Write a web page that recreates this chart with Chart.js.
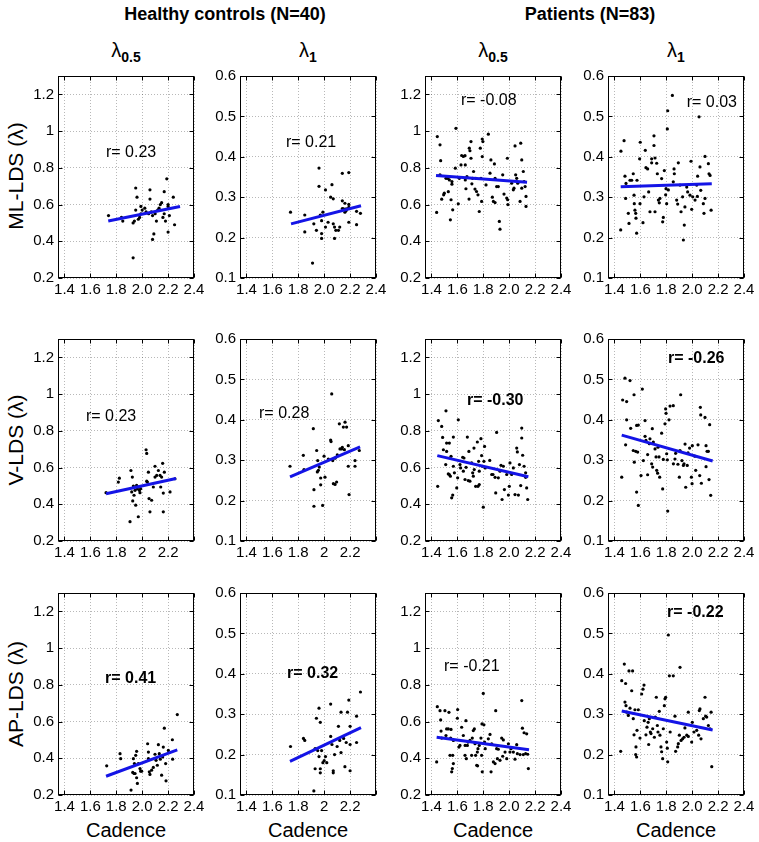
<!DOCTYPE html>
<html>
<head>
<meta charset="utf-8">
<script src="https://cdn.jsdelivr.net/npm/chart.js"></script>
<style>
body { margin: 0; width: 759px; height: 842px; background: #fff; position: relative; overflow: hidden;
       font-family: "Liberation Sans", Arial, sans-serif; color: #000; }
canvas { position: absolute; }
.head { position: absolute; top: 5px; width: 300px; text-align: center; font-weight: bold; font-size: 18px; line-height: 18px; }
.lam { position: absolute; top: 40px; width: 136px; text-align: center; font-size: 20px; line-height: 20px; }
.lam sub { font-size: 14px; font-weight: bold; vertical-align: -5px; line-height: 0; }
.rowlab { position: absolute; width: 200px; height: 24px; line-height: 24px; text-align: center; font-size: 21px; transform: rotate(-90deg); }
.xlab { position: absolute; top: 820px; width: 136px; text-align: center; font-size: 20px; line-height: 20px; }
</style>
</head>
<body>

<div class="head" style="left:75px">Healthy controls (N=40)</div>
<div class="head" style="left:440px">Patients (N=83)</div>

<div class="lam" style="left:58px">λ<sub>0.5</sub></div>
<div class="lam" style="left:240px">λ<sub>1</sub></div>
<div class="lam" style="left:425px">λ<sub>0.5</sub></div>
<div class="lam" style="left:608px">λ<sub>1</sub></div>

<div class="rowlab" style="left:-84px; top:164px">ML-LDS (λ)</div>
<div class="rowlab" style="left:-84px; top:428px">V-LDS (λ)</div>
<div class="rowlab" style="left:-84px; top:682px">AP-LDS (λ)</div>

<div class="xlab" style="left:58px">Cadence</div>
<div class="xlab" style="left:240px">Cadence</div>
<div class="xlab" style="left:425px">Cadence</div>
<div class="xlab" style="left:608px">Cadence</div>

<script>
// ---- ticks ----
const xTickValues = [1.4, 1.6, 1.8, 2.0, 2.2, 2.4];
const xLabelsLong = ['1.4', '1.6', '1.8', '2.0', '2.2', '2.4'];
const xLabelsShort = ['1.4', '1.6', '1.8', '2', '2.2', ''];
const yTicks05 = [0.2, 0.4, 0.6, 0.8, 1, 1.2];
const yLabels05 = ['0.2', '0.4', '0.6', '0.8', '1', '1.2'];
const yTicks1 = [0.1, 0.2, 0.3, 0.4, 0.5, 0.6];
const yLabels1 = ['0.1', '0.2', '0.3', '0.4', '0.5', '0.6'];

// ---- healthy controls: [cadence, lambda] ----
const hcMl05 = [[1.74,0.54],[1.84,0.53],[1.85,0.51],[1.93,0.50],[1.93,0.31],[1.94,0.51],[1.95,0.69],[1.96,0.64],[1.95,0.57],[1.97,0.52],
  [1.98,0.53],[1.99,0.59],[2.00,0.57],[2.02,0.58],[2.05,0.55],[2.06,0.68],[2.06,0.63],[2.07,0.56],[2.08,0.54],[2.08,0.41],
  [2.09,0.44],[2.10,0.55],[2.11,0.51],[2.13,0.58],[2.14,0.60],[2.15,0.61],[2.16,0.53],[2.17,0.67],[2.17,0.55],[2.18,0.51],
  [2.19,0.74],[2.20,0.60],[2.20,0.59],[2.20,0.45],[2.21,0.54],[2.24,0.64],[2.25,0.49],[2.12,0.57],[2.03,0.56],[1.99,0.55]];
const hcMl1 = [[1.74,0.263],[1.85,0.256],[1.85,0.214],[1.94,0.218],[1.96,0.372],[1.96,0.327],[1.97,0.256],[1.98,0.21],[1.98,0.198],[1.98,0.242],
  [1.99,0.263],[2.01,0.318],[2.01,0.226],[2.03,0.238],[2.06,0.331],[2.07,0.234],[2.07,0.296],[2.08,0.226],[2.08,0.198],[2.09,0.218],
  [2.11,0.218],[2.12,0.226],[2.14,0.359],[2.14,0.272],[2.15,0.271],[2.16,0.285],[2.16,0.263],[2.17,0.267],[2.19,0.361],[2.19,0.282],
  [2.19,0.275],[2.19,0.238],[2.25,0.232],[2.25,0.265],[2.28,0.26],[1.91,0.137],[2.17,0.271],[2.14,0.291],[2.05,0.3],[1.92,0.234]];
const hcV05 = [[1.721,0.463],[1.816,0.521],[1.824,0.542],[1.906,0.305],[1.913,0.584],[1.919,0.467],[1.924,0.548],[1.927,0.418],[1.932,0.499],[1.937,0.449],
  [1.945,0.476],[1.95,0.395],[1.957,0.503],[1.963,0.485],[1.97,0.332],[1.978,0.476],[1.983,0.463],[1.988,0.485],[2.03,0.697],[2.035,0.677],
  [2.035,0.526],[2.04,0.521],[2.048,0.575],[2.053,0.431],[2.06,0.359],[2.073,0.422],[2.086,0.494],[2.099,0.607],[2.099,0.548],[2.112,0.557],
  [2.125,0.584],[2.138,0.557],[2.143,0.494],[2.158,0.623],[2.163,0.461],[2.163,0.359],[2.171,0.575],[2.215,0.467],[2.253,0.539],[2.15,0.548]];
const hcV1 = [[1.736,0.285],[1.839,0.312],[1.844,0.277],[1.916,0.378],[1.921,0.227],[1.921,0.186],[1.942,0.324],[1.947,0.271],[1.95,0.299],[1.955,0.275],
  [1.962,0.283],[1.973,0.239],[1.973,0.256],[1.988,0.188],[1.999,0.31],[2.006,0.258],[2.05,0.35],[2.053,0.346],[2.058,0.464],[2.066,0.299],
  [2.071,0.242],[2.084,0.24],[2.096,0.246],[2.101,0.313],[2.117,0.39],[2.122,0.328],[2.135,0.328],[2.148,0.382],[2.156,0.326],[2.161,0.394],
  [2.173,0.382],[2.186,0.336],[2.186,0.285],[2.192,0.215],[2.238,0.299],[2.238,0.285],[2.271,0.324],[2.032,0.303],[2.084,0.305],[2.14,0.332]];
const hcAp05 = [[1.726,0.359],[1.829,0.425],[1.834,0.398],[1.914,0.227],[1.927,0.323],[1.932,0.398],[1.937,0.317],[1.94,0.371],[1.945,0.317],[1.95,0.416],
  [1.957,0.438],[1.957,0.294],[1.963,0.263],[1.97,0.371],[1.983,0.344],[1.988,0.33],[1.996,0.33],[2.042,0.479],[2.048,0.434],[2.048,0.398],
  [2.055,0.326],[2.06,0.312],[2.073,0.335],[2.086,0.35],[2.099,0.422],[2.107,0.389],[2.117,0.362],[2.125,0.474],[2.132,0.425],[2.14,0.395],
  [2.15,0.308],[2.158,0.407],[2.163,0.461],[2.171,0.564],[2.181,0.371],[2.184,0.277],[2.202,0.443],[2.233,0.501],[2.235,0.395],[2.271,0.638]];
const hcAp1 = [[1.74,0.22],[1.84,0.24],[1.85,0.235],[1.92,0.11],[1.93,0.165],[1.93,0.215],[1.94,0.29],[1.95,0.21],[1.96,0.315],[1.96,0.195],
  [1.97,0.28],[1.97,0.165],[1.97,0.155],[1.99,0.18],[2.00,0.185],[2.01,0.195],[2.05,0.325],[2.05,0.245],[2.06,0.225],[2.07,0.16],
  [2.07,0.155],[2.08,0.2],[2.10,0.22],[2.11,0.27],[2.12,0.235],[2.13,0.305],[2.13,0.205],[2.15,0.24],[2.16,0.17],[2.17,0.23],
  [2.18,0.305],[2.19,0.335],[2.20,0.27],[2.20,0.16],[2.20,0.225],[2.25,0.295],[2.25,0.23],[2.28,0.355],[2.02,0.18],[1.98,0.21]];

// ---- patients: [cadence, lambda] ----
const ptMl05 = [[1.44,0.557],[1.445,0.97],[1.466,0.925],[1.471,0.839],[1.466,0.762],[1.479,0.629],[1.494,0.653],[1.499,0.662],[1.512,0.743],[1.525,0.743],
  [1.53,0.67],[1.538,0.734],[1.546,0.517],[1.551,0.626],[1.558,0.725],[1.558,0.711],[1.564,0.571],[1.584,0.798],[1.589,1.015],[1.607,0.604],
  [1.615,0.743],[1.628,0.816],[1.633,0.867],[1.646,0.862],[1.659,0.866],[1.661,0.816],[1.661,0.734],[1.666,0.686],[1.674,0.752],[1.692,0.907],
  [1.697,0.893],[1.705,0.943],[1.705,0.852],[1.712,0.713],[1.717,0.743],[1.725,0.78],[1.736,0.684],[1.743,0.743],[1.748,0.671],[1.759,0.653],
  [1.769,0.562],[1.777,0.907],[1.782,0.743],[1.787,0.617],[1.792,0.957],[1.792,0.861],[1.797,0.943],[1.821,0.707],[1.839,0.983],[1.852,0.771],
  [1.859,0.843],[1.878,0.617],[1.886,0.821],[1.891,0.743],[1.903,0.698],[1.916,0.698],[1.924,0.508],[1.929,0.466],[1.891,0.611],[1.95,0.762],
  [1.96,0.657],[1.981,0.635],[1.986,0.852],[1.988,0.626],[2.019,0.716],[2.032,0.68],[2.037,0.689],[2.045,0.919],[2.05,0.762],[2.058,0.743],
  [2.066,0.716],[2.084,0.617],[2.089,0.934],[2.097,0.843],[2.109,0.78],[2.115,0.725],[2.123,0.698],[2.13,0.644],[2.13,0.59],[2.097,0.689],
  [1.99,0.6],[1.69,0.63],[1.87,0.64]];
const ptMl1 = [[1.448,0.219],[1.45,0.414],[1.474,0.44],[1.481,0.352],[1.489,0.334],[1.486,0.297],[1.507,0.26],[1.512,0.235],[1.52,0.342],[1.533,0.342],
  [1.545,0.358],[1.551,0.305],[1.553,0.284],[1.558,0.268],[1.564,0.26],[1.566,0.248],[1.571,0.211],[1.574,0.342],[1.594,0.395],[1.599,0.436],
  [1.62,0.237],[1.628,0.301],[1.638,0.416],[1.643,0.373],[1.656,0.37],[1.664,0.313],[1.674,0.264],[1.687,0.395],[1.687,0.385],[1.705,0.428],
  [1.705,0.452],[1.713,0.397],[1.713,0.264],[1.726,0.384],[1.731,0.358],[1.739,0.293],[1.746,0.286],[1.751,0.297],[1.764,0.346],[1.772,0.239],
  [1.777,0.25],[1.785,0.366],[1.795,0.306],[1.798,0.321],[1.803,0.284],[1.808,0.469],[1.811,0.514],[1.816,0.318],[1.847,0.552],[1.854,0.338],
  [1.86,0.37],[1.88,0.293],[1.888,0.283],[1.893,0.385],[1.906,0.33],[1.914,0.264],[1.926,0.301],[1.932,0.194],[1.939,0.231],[1.944,0.276],
  [1.958,0.325],[1.965,0.313],[1.983,0.305],[1.991,0.389],[1.996,0.27],[2.004,0.301],[2.035,0.33],[2.042,0.352],[2.053,0.499],[2.06,0.375],
  [2.066,0.317],[2.086,0.284],[2.091,0.26],[2.099,0.401],[2.099,0.297],[2.125,0.383],[2.13,0.358],[2.138,0.354],[2.146,0.268],[2.04,0.302],
  [2.022,0.293],[1.597,0.284],[1.862,0.358]];
const ptV05 = [[1.448,0.498],[1.453,0.856],[1.479,0.824],[1.486,0.764],[1.492,0.697],[1.512,0.909],[1.517,0.688],[1.517,0.733],[1.538,0.733],[1.53,0.565],
  [1.538,0.562],[1.546,0.553],[1.551,0.661],[1.556,0.435],[1.564,0.45],[1.569,0.607],[1.569,0.766],[1.577,0.571],[1.602,0.544],[1.607,0.86],
  [1.62,0.616],[1.625,0.598],[1.641,0.656],[1.651,0.652],[1.659,0.535],[1.677,0.766],[1.684,0.529],[1.689,0.688],[1.697,0.526],[1.71,0.625],
  [1.718,0.571],[1.723,0.553],[1.73,0.589],[1.741,0.498],[1.754,0.739],[1.759,0.498],[1.764,0.634],[1.769,0.58],[1.782,0.757],[1.787,0.665],
  [1.792,0.607],[1.8,0.384],[1.805,0.634],[1.81,0.715],[1.815,0.598],[1.85,0.639],[1.865,0.562],[1.875,0.562],[1.891,0.547],[1.896,0.462],
  [1.903,0.791],[1.916,0.544],[1.929,0.58],[1.937,0.612],[1.945,0.426],[1.955,0.607],[1.963,0.48],[1.981,0.562],[1.994,0.45],[2.001,0.498],
  [2.019,0.562],[2.032,0.598],[2.045,0.453],[2.058,0.706],[2.063,0.685],[2.071,0.45],[2.079,0.616],[2.089,0.502],[2.097,0.815],[2.097,0.761],
  [2.104,0.667],[2.115,0.607],[2.127,0.571],[2.135,0.489],[2.143,0.426],[2.127,0.547],[1.646,0.58],[1.595,0.489],[1.728,0.706],[1.769,0.507],
  [1.667,0.601],[2.006,0.625],[1.51,0.616]];
const ptV1 = [[1.456,0.258],[1.463,0.449],[1.481,0.503],[1.486,0.338],[1.494,0.445],[1.494,0.4],[1.52,0.497],[1.525,0.379],[1.545,0.324],[1.551,0.462],
  [1.553,0.295],[1.564,0.322],[1.571,0.386],[1.571,0.221],[1.579,0.32],[1.584,0.387],[1.584,0.188],[1.605,0.262],[1.615,0.476],[1.636,0.398],
  [1.636,0.359],[1.643,0.349],[1.656,0.264],[1.656,0.314],[1.669,0.341],[1.674,0.353],[1.687,0.291],[1.692,0.378],[1.695,0.283],[1.713,0.328],
  [1.721,0.308],[1.726,0.275],[1.733,0.268],[1.736,0.332],[1.744,0.308],[1.749,0.258],[1.764,0.367],[1.772,0.229],[1.777,0.302],[1.79,0.39],
  [1.795,0.427],[1.798,0.416],[1.803,0.316],[1.808,0.301],[1.811,0.174],[1.821,0.4],[1.829,0.434],[1.854,0.435],[1.867,0.303],[1.872,0.317],
  [1.901,0.258],[1.906,0.324],[1.911,0.462],[1.921,0.299],[1.932,0.287],[1.937,0.291],[1.95,0.233],[1.962,0.287],[1.968,0.318],[1.994,0.258],
  [1.999,0.242],[2.001,0.336],[2.027,0.275],[2.045,0.338],[2.058,0.262],[2.063,0.431],[2.066,0.412],[2.071,0.243],[2.099,0.406],[2.107,0.336],
  [2.107,0.284],[2.115,0.322],[2.125,0.322],[2.13,0.252],[2.135,0.388],[2.143,0.213],[1.89,0.29],[1.855,0.291],[1.623,0.299],[2.02,0.31],
  [1.945,0.34],[1.7,0.345],[1.98,0.33]];
const ptAp05 = [[1.44,0.38],[1.445,0.681],[1.466,0.659],[1.471,0.609],[1.474,0.548],[1.479,0.51],[1.504,0.659],[1.512,0.524],[1.517,0.56],[1.53,0.56],
  [1.535,0.65],[1.543,0.416],[1.548,0.51],[1.551,0.557],[1.556,0.326],[1.561,0.344],[1.564,0.416],[1.569,0.371],[1.569,0.497],[1.6,0.618],
  [1.612,0.461],[1.62,0.47],[1.633,0.569],[1.646,0.524],[1.659,0.416],[1.666,0.605],[1.669,0.398],[1.677,0.47],[1.682,0.488],[1.697,0.497],
  [1.71,0.416],[1.715,0.51],[1.723,0.551],[1.731,0.56],[1.736,0.479],[1.741,0.416],[1.749,0.362],[1.754,0.434],[1.756,0.359],[1.759,0.452],
  [1.769,0.47],[1.782,0.51],[1.787,0.416],[1.79,0.587],[1.792,0.326],[1.8,0.753],[1.805,0.582],[1.81,0.488],[1.815,0.452],[1.839,0.506],
  [1.852,0.53],[1.86,0.326],[1.865,0.479],[1.878,0.38],[1.891,0.371],[1.896,0.659],[1.903,0.452],[1.909,0.398],[1.916,0.449],[1.929,0.389],
  [1.942,0.51],[1.95,0.411],[1.968,0.434],[1.981,0.398],[1.994,0.479],[2.006,0.434],[2.014,0.452],[2.032,0.434],[2.045,0.395],[2.058,0.474],
  [2.063,0.425],[2.084,0.42],[2.097,0.714],[2.102,0.564],[2.109,0.42],[2.115,0.539],[2.135,0.533],[2.143,0.422],[2.148,0.344],[2.127,0.425],
  [1.602,0.665],[1.66,0.47],[1.955,0.5]];
const ptAp1 = [[1.448,0.208],[1.456,0.383],[1.476,0.424],[1.481,0.33],[1.489,0.321],[1.486,0.376],[1.507,0.297],[1.512,0.407],[1.52,0.315],[1.533,0.358],
  [1.54,0.407],[1.545,0.289],[1.551,0.249],[1.558,0.311],[1.564,0.2],[1.566,0.219],[1.571,0.194],[1.574,0.26],[1.584,0.311],[1.597,0.241],
  [1.61,0.35],[1.62,0.362],[1.628,0.372],[1.63,0.284],[1.643,0.249],[1.651,0.268],[1.664,0.225],[1.669,0.289],[1.677,0.256],[1.682,0.252],
  [1.695,0.264],[1.708,0.243],[1.715,0.293],[1.723,0.342],[1.731,0.272],[1.736,0.256],[1.746,0.307],[1.751,0.248],[1.759,0.219],[1.764,0.207],
  [1.772,0.19],[1.777,0.264],[1.785,0.321],[1.79,0.338],[1.795,0.342],[1.803,0.231],[1.808,0.216],[1.811,0.182],[1.816,0.496],[1.824,0.395],
  [1.854,0.395],[1.867,0.295],[1.872,0.208],[1.888,0.219],[1.893,0.227],[1.901,0.248],[1.906,0.416],[1.914,0.235],[1.926,0.239],[1.937,0.243],
  [1.944,0.266],[1.958,0.248],[1.97,0.305],[1.996,0.231],[2.001,0.28],[2.014,0.256],[2.035,0.26],[2.055,0.309],[2.06,0.313],[2.068,0.239],
  [2.086,0.289],[2.099,0.342],[2.104,0.295],[2.112,0.293],[2.125,0.272],[2.138,0.264],[2.146,0.305],[2.151,0.17],[1.495,0.305],[1.83,0.256],
  [1.97,0.245],[2.05,0.248],[1.66,0.28]];

// ---- regression lines (end points) ----
const fitHcMl05 = [[1.738,0.51],[2.292,0.589]];
const fitHcMl1 = [[1.744,0.234],[2.284,0.279]];
const fitPtMl05 = [[1.435,0.758],[2.138,0.722]];
const fitPtMl1 = [[1.448,0.326],[2.151,0.333]];
const fitHcV05 = [[1.721,0.457],[2.261,0.54]];
const fitHcV1 = [[1.736,0.259],[2.277,0.333]];
const fitPtV05 = [[1.445,0.665],[2.148,0.55]];
const fitPtV1 = [[1.456,0.362],[2.158,0.298]];
const fitHcAp05 = [[1.721,0.302],[2.271,0.446]];
const fitHcAp1 = [[1.736,0.183],[2.284,0.267]];
const fitPtAp05 = [[1.44,0.514],[2.153,0.446]];
const fitPtAp1 = [[1.456,0.308],[2.158,0.261]];

// ---- correlation labels ----
const rTexts = ['r= 0.23', 'r= 0.21', 'r= -0.08', 'r= 0.03',
                'r= 0.23', 'r= 0.28', 'r= -0.30', 'r= -0.26',
                'r= 0.41', 'r= 0.32', 'r= -0.21', 'r= -0.22'];
const rBold = [false, false, false, false, false, false, true, true, true, true, false, true];
const rAnchors = [[1.72,0.881],[1.705,0.434],[1.628,1.168],[1.958,0.533],
                  [1.566,0.875],[1.497,0.416],[1.674,0.965],[1.813,0.551],
                  [1.713,0.835],[1.713,0.401],[1.497,0.9],[1.806,0.551]];

const colLeft = [58, 240, 425, 608];
const rowTop = [75, 338, 592];
const PLOT_W = 136, PLOT_H = 203, PAD_L = 45, PAD_T = 12, PAD_R = 14, PAD_B = 30;
const FONT = '"Liberation Sans", Arial, sans-serif';
const LINE_BLUE = '#1414e6';

const panels = [
    {pts: hcMl05, fit: fitHcMl05, lam: 0.5, short: false},
    {pts: hcMl1, fit: fitHcMl1, lam: 1, short: false},
    {pts: ptMl05, fit: fitPtMl05, lam: 0.5, short: false},
    {pts: ptMl1, fit: fitPtMl1, lam: 1, short: false},
    {pts: hcV05, fit: fitHcV05, lam: 0.5, short: true},
    {pts: hcV1, fit: fitHcV1, lam: 1, short: true},
    {pts: ptV05, fit: fitPtV05, lam: 0.5, short: false},
    {pts: ptV1, fit: fitPtV1, lam: 1, short: false},
    {pts: hcAp05, fit: fitHcAp05, lam: 0.5, short: false},
    {pts: hcAp1, fit: fitHcAp1, lam: 1, short: true},
    {pts: ptAp05, fit: fitPtAp05, lam: 0.5, short: false},
    {pts: ptAp1, fit: fitPtAp1, lam: 1, short: false}
];

/**
 * Black box around the axes plus small inward ticks on every side
 */
const framePlugin = {
    id: 'frame',
    beforeDatasetsDraw(chart){
        const {ctx, chartArea: a, scales: {x, y}} = chart;
        const l = Math.round(a.left) + 0.5, r = Math.round(a.right) - 0.5;
        const t = Math.round(a.top) + 0.5, b = Math.round(a.bottom) - 0.5;
        ctx.save();
        ctx.strokeStyle = '#000';
        ctx.lineWidth = 1;
        ctx.strokeRect(l, t, r - l, b - t);
        ctx.beginPath();
        x.ticks.forEach(tk => {
            const px = Math.round(x.getPixelForValue(tk.value)) + 0.5;
            ctx.moveTo(px, b); ctx.lineTo(px, b - 4);
            ctx.moveTo(px, t); ctx.lineTo(px, t + 4);
        });
        y.ticks.forEach(tk => {
            const py = Math.round(y.getPixelForValue(tk.value)) + 0.5;
            ctx.moveTo(l, py); ctx.lineTo(l + 4, py);
            ctx.moveTo(r, py); ctx.lineTo(r - 4, py);
        });
        ctx.stroke();
        ctx.restore();
    }
};

/**
 * Writes the correlation coefficient inside the panel
 */
const rLabelPlugin = {
    id: 'rLabel',
    afterDraw(chart, args, opts){
        const {ctx, scales: {x, y}} = chart;
        ctx.save();
        ctx.font = (opts.bold ? 'bold ' : '') + '16px ' + FONT;
        ctx.fillStyle = '#000';
        ctx.textAlign = 'left';
        ctx.textBaseline = 'middle';
        ctx.fillText(opts.text, x.getPixelForValue(opts.x), y.getPixelForValue(opts.y));
        ctx.restore();
    }
};

function toXY(list){
    return list.map(p => ({x: p[0], y: p[1]}));
}

function drawPanel(panel, index){
    const row = Math.floor(index / 4), col = index % 4;
    const canvas = document.createElement('canvas');
    canvas.width = PLOT_W + PAD_L + PAD_R;
    canvas.height = PLOT_H + PAD_T + PAD_B;
    canvas.style.left = (colLeft[col] - PAD_L) + 'px';
    canvas.style.top = (rowTop[row] - PAD_T) + 'px';
    document.body.appendChild(canvas);

    const yTicks = panel.lam === 1 ? yTicks1 : yTicks05;
    const yLabels = panel.lam === 1 ? yLabels1 : yLabels05;
    const xLabels = panel.short ? xLabelsShort : xLabelsLong;
    const gridStyle = {color: 'rgba(0,0,0,0.28)', lineWidth: 1, drawTicks: false};
    const tickFont = {family: FONT, size: 15};

    new Chart(canvas.getContext('2d'), {
        type: 'scatter',
        data: {
            datasets: [{
                data: toXY(panel.fit),
                showLine: true,
                borderColor: LINE_BLUE,
                borderWidth: 3,
                pointRadius: 0,
                fill: false
            }, {
                data: toXY(panel.pts),
                pointRadius: 1.6,
                pointBackgroundColor: '#000',
                pointBorderWidth: 0
            }]
        },
        options: {
            responsive: false,
            animation: false,
            events: [],
            layout: {padding: {top: PAD_T, right: PAD_R, left: 0, bottom: 0}},
            plugins: {
                legend: {display: false},
                tooltip: {enabled: false},
                rLabel: {text: rTexts[index], bold: rBold[index], x: rAnchors[index][0], y: rAnchors[index][1]}
            },
            scales: {
                x: {
                    type: 'linear', min: 1.35, max: 2.4,
                    afterBuildTicks: s => { s.ticks = xTickValues.map(v => ({value: v})); },
                    afterFit: s => { s.height = PAD_B; },
                    grid: gridStyle,
                    border: {display: false, dash: [1, 2]},
                    ticks: {autoSkip: false, maxRotation: 0, padding: 3, color: '#000', font: tickFont,
                            callback: (v, i) => xLabels[i]}
                },
                y: {
                    type: 'linear', min: yTicks[0], max: panel.lam === 1 ? 0.6 : 1.3,
                    afterBuildTicks: s => { s.ticks = yTicks.map(v => ({value: v})); },
                    afterFit: s => { s.width = PAD_L; },
                    grid: gridStyle,
                    border: {display: false, dash: [1, 2]},
                    ticks: {autoSkip: false, padding: 4, color: '#000', font: tickFont,
                            callback: (v, i) => yLabels[i]}
                }
            }
        },
        plugins: [framePlugin, rLabelPlugin]
    });
}

panels.forEach(drawPanel);
</script>
</body>
</html>
